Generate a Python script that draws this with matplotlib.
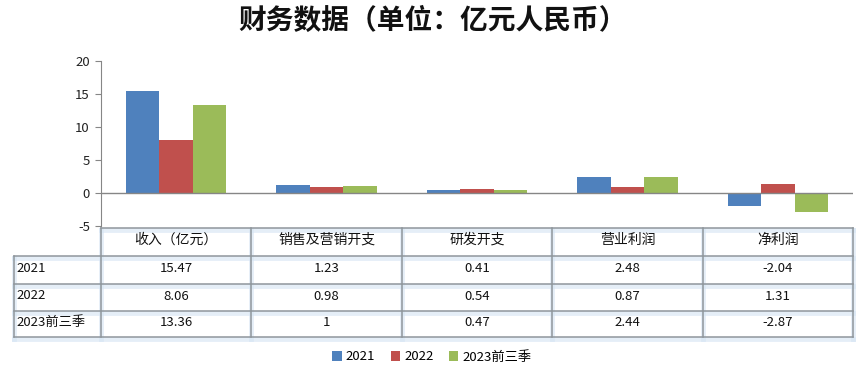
import matplotlib
matplotlib.use("Agg")
import matplotlib.pyplot as plt
import numpy as np

plt.rcParams['font.family'] = ['Noto Sans CJK SC', 'DejaVu Sans']

categories = ["收入（亿元）", "销售及营销开支", "研发开支", "营业利润", "净利润"]
series_names = ["2021", "2022", "2023前三季"]
v2021 = [15.47, 1.23, 0.41, 2.48, -2.04]
v2022 = [8.06, 0.98, 0.54, 0.87, 1.31]
v2023 = [13.36, 1, 0.47, 2.44, -2.87]
cell_labels = [["15.47", "1.23", "0.41", "2.48", "-2.04"],
               ["8.06", "0.98", "0.54", "0.87", "1.31"],
               ["13.36", "1", "0.47", "2.44", "-2.87"]]
yticks = [-5, 0, 5, 10, 15, 20]
colors = ["#4F81BD", "#C0504D", "#9BBB59"]

W, H = 865, 376
fig = plt.figure(figsize=(W / 100, H / 100), dpi=100)
ax_l, ax_r, ax_t, ax_b = 101, 853, 61, 226
ax = fig.add_axes([ax_l / W, 1 - ax_b / H, (ax_r - ax_l) / W, (ax_b - ax_t) / H])

n = len(categories)
x = np.arange(n)
bw = 1 / 4.5
for i, (vals, c, name) in enumerate(zip([v2021, v2022, v2023], colors, series_names)):
    ax.bar(x + (i - 1) * bw, vals, width=bw, color=c, label=name, zorder=3)

ax.set_xlim(-0.5, n - 0.5)
ax.set_ylim(-5, 20)
ax.set_yticks(yticks)
ax.set_yticklabels([str(t) for t in yticks], fontsize=9.5)
ax.tick_params(axis='y', length=4, color="#868686", pad=4, labelcolor="#222222")
ax.set_xticks([])
for s in ["top", "right", "bottom"]:
    ax.spines[s].set_visible(False)
ax.spines["left"].set_color("#868686")
ax.axhline(0, color="#868686", lw=1, zorder=4)

fig.text(0.5, 1 - 21 / H, "财务数据（单位：亿元人民币）", ha="center", va="center",
         fontsize=20, fontweight="bold", color="#111111")

# table
tab_top, hdr_bot = 228, 256
row_bounds = [256, 284, 311, 337]
lab_l = 14
col_edges = [ax_l + (ax_r - ax_l) * k / n for k in range(n + 1)]
ln = dict(color="#8F969C", lw=1.1)
glow = dict(color="#D5E4F3", lw=3.5, alpha=0.6)

def fx(px):
    return px / W

def fy(py):
    return 1 - py / H

lines = []
lines.append(([ax_l, ax_r], [tab_top, tab_top]))
lines.append(([lab_l, ax_r], [hdr_bot, hdr_bot]))
for yb in row_bounds[1:]:
    lines.append(([lab_l, ax_r], [yb, yb]))
lines.append(([lab_l, lab_l], [hdr_bot, row_bounds[-1]]))
for xe in col_edges:
    lines.append(([xe, xe], [tab_top, row_bounds[-1]]))
for xs, ys in lines:
    fig.add_artist(plt.Line2D([fx(v) for v in xs], [fy(v + 2) for v in ys], transform=fig.transFigure, **glow))
for xs, ys in lines:
    fig.add_artist(plt.Line2D([fx(v) for v in xs], [fy(v) for v in ys], transform=fig.transFigure, **ln))

for k, cat in enumerate(categories):
    cx = (col_edges[k] + col_edges[k + 1]) / 2
    fig.text(fx(cx), fy((tab_top + hdr_bot) / 2 - 2), cat, ha="center", va="center", fontsize=10, color="#111111")
for r, name in enumerate(series_names):
    cy = (row_bounds[r] + row_bounds[r + 1]) / 2 - 1
    fig.text(fx(lab_l + 2), fy(cy - 1), name, ha="left", va="center", fontsize=9.5, color="#111111")
    for k in range(n):
        cx = (col_edges[k] + col_edges[k + 1]) / 2
        fig.text(fx(cx), fy(cy), cell_labels[r][k], ha="center", va="center", fontsize=9.5, color="#111111")

leg = fig.legend(loc="center", bbox_to_anchor=(fx(432), fy(357)), ncol=3, frameon=False,
                 fontsize=9.5, handlelength=0.7, handleheight=0.7, handletextpad=0.3, columnspacing=1.2)

fig.savefig("out.png", dpi=100)
